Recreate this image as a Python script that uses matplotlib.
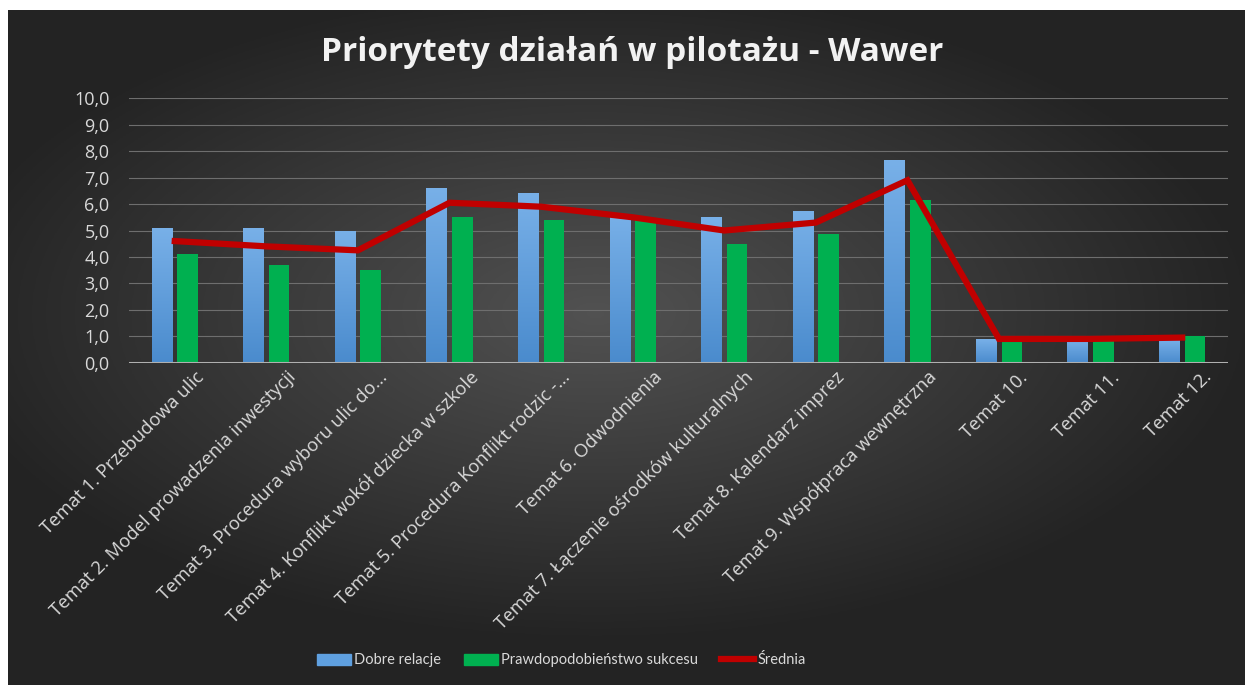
import numpy as np
import matplotlib
matplotlib.use("Agg")
import matplotlib.pyplot as plt
import matplotlib.transforms as mtrans
from matplotlib.colors import LinearSegmentedColormap
from matplotlib.patches import Patch
from matplotlib.lines import Line2D

plt.rcParams['font.family'] = ['Open Sans', 'DejaVu Sans']

# data
tematy = [
    "Temat 1. Przebudowa ulic",
    "Temat 2. Model prowadzenia inwestycji",
    "Temat 3. Procedura wyboru ulic do...",
    "Temat 4. Konflikt wokół dziecka w szkole",
    "Temat 5. Procedura Konflikt rodzic -...",
    "Temat 6. Odwodnienia",
    "Temat 7. Łączenie ośrodków kulturalnych",
    "Temat 8. Kalendarz imprez",
    "Temat 9. Współpraca wewnętrzna",
    "Temat 10.",
    "Temat 11.",
    "Temat 12.",
]
dobre_relacje = [5.1, 5.1, 5.0, 6.6, 6.4, 5.6, 5.5, 5.75, 7.65, 0.9, 0.9, 0.9]
prawdopodobienstwo = [4.1, 3.7, 3.5, 5.5, 5.4, 5.4, 4.5, 4.85, 6.15, 0.9, 0.9, 1.0]
srednia = [4.6, 4.4, 4.25, 6.05, 5.9, 5.5, 5.0, 5.3, 6.9, 0.9, 0.9, 0.95]
y_ticks = [0, 1, 2, 3, 4, 5, 6, 7, 8, 9, 10]

fig = plt.figure(figsize=(12.45, 6.85), dpi=100, facecolor='white')

# dark background with a soft radial glow
bg = fig.add_axes([8 / 1245, 0, 1 - 8 / 1245, 1 - 10 / 685])
bg.set_axis_off()
gx, gy = np.meshgrid(np.linspace(-1, 1, 400), np.linspace(-1, 1, 300))
r = np.sqrt((gx + 0.05) ** 2 + ((gy + 0.1) * 1.1) ** 2)
shade = np.clip(0.32 - 0.17 * r, 0.14, 0.32)
bg.imshow(np.dstack([shade] * 3), aspect='auto', extent=[0, 1, 0, 1])
bg.set_xlim(0, 1)
bg.set_ylim(0, 1)

ax = fig.add_axes([0.1036, 0.4705, 0.8827, 0.386])
ax.set_facecolor('none')
x = np.arange(len(tematy))
w = 0.225
blue_bars = ax.bar(x - 0.14, dobre_relacje, w, color='#5fa0e0', zorder=3)
ax.bar(x + 0.14, prawdopodobienstwo, w, color='#00b050', zorder=3)
ax.plot(x, srednia, color='#c00000', lw=4.5, solid_joinstyle='miter', zorder=4)

# vertical gradient on the blue bars
blue_cmap = LinearSegmentedColormap.from_list('b', ['#4a8bcd', '#78b0e8'])
grad = np.linspace(0, 1, 128).reshape(-1, 1)
for b in blue_bars:
    im = ax.imshow(grad, cmap=blue_cmap, origin='lower', aspect='auto', zorder=3.1,
                   extent=[b.get_x(), b.get_x() + b.get_width(), 0, b.get_height()])
    im.set_clip_path(b)

ax.set_ylim(0, 10)
ax.set_xlim(-0.5, len(tematy) - 0.5)
ax.set_yticks(y_ticks)
ax.set_yticklabels([f"{v:.1f}".replace('.', ',') for v in y_ticks],
                   fontsize=13, color='#d9d9d9')
ax.set_xticks(x)
ax.set_xticklabels([])
ax.tick_params(axis='y', length=0, pad=14)
ax.tick_params(axis='x', length=0)
for s in ax.spines.values():
    s.set_visible(False)
ax.grid(axis='y', color='#6e6e6e', lw=0.8, zorder=0)
ax.axhline(0, color='#b0b0b0', lw=2.2, zorder=5)

# rotated category labels, anchored a little right of each category centre
lab_tr = ax.get_xaxis_transform() + mtrans.ScaledTranslation(0.2, -0.055, fig.dpi_scale_trans)
for xi, t in zip(x, tematy):
    ax.text(xi, 0, t, transform=lab_tr, rotation=45, ha='right', va='top',
            rotation_mode='anchor', fontsize=13.3, color='#d9d9d9')

fig.text(0.508, 0.924, "Priorytety działań w pilotażu - Wawer",
         ha='center', va='center', fontsize=24, fontweight='bold', color='#f2f2f2')

handles = [Patch(color='#5fa0e0'), Patch(color='#00b050'),
           Line2D([0], [0], color='#c00000', lw=4.5)]
fig.legend(handles, ["Dobre relacje", "Prawdopodobieństwo sukcesu", "Średnia"],
           loc='center', bbox_to_anchor=(0.451, 0.036), ncol=3, frameon=False,
           prop={'family': ['Lato', 'DejaVu Sans'], 'size': 10.5},
           labelcolor='#d9d9d9', handlelength=2.3, handleheight=0.8,
           handletextpad=0.2, columnspacing=1.6)

fig.savefig("out.png", dpi=100, facecolor='white')
